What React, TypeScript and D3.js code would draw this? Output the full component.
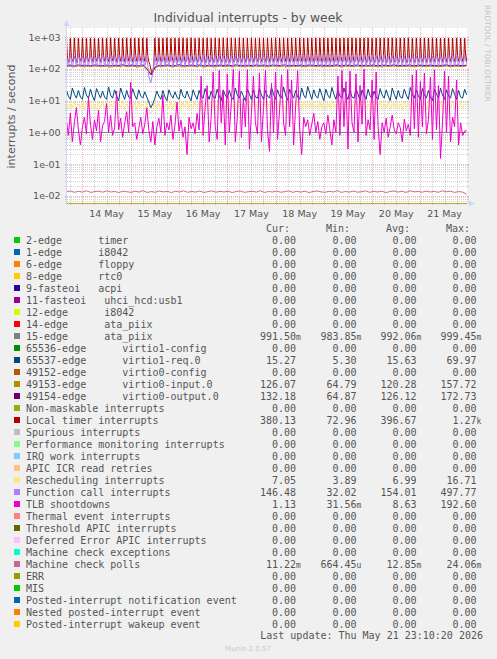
import React from 'react';
import * as d3 from 'd3';

// ---------- layout constants ----------
const W = 497;
const H = 659;
const PLOT = { left: 67, right: 467, top: 28, bottom: 203 };

// time axis in hours relative to 14 May 00:00
const hourStart = -7.667;
const hourEnd = 191.172;
const seriesStartHour = -8;

const yMin = 0.005884;
const yMax = 1966;

// ---------- tick labels ----------
const dayLabels = ['14 May', '15 May', '16 May', '17 May', '18 May', '19 May', '20 May', '21 May'];
const yTickValues = [1e3, 1e2, 1e1, 1, 0.1, 0.01];
const yTickLabels = ['1e+03', '1e+02', '1e+01', '1e+00', '1e-01', '1e-02'];

// ---------- series values (30-minute, 13 May 16:00 .. 21 May 23:30) ----------
const localTimer = [
  950,262,172,165, 938,255,178,168, 962,270,175,160, 945,258,180,170, 955,265,168,163, 940,250,176,167, 960,268,174,161, 948,259,179,169, 935,252,171,164, 957,266,177,166,
  943,261,173,162, 965,272,181,170, 939,254,169,165, 952,263,176,168, 946,257,172,161, 961,269,178,167, 937,251,170,163, 954,264,175,169, 949,260,180,166, 958,267,173,162,
  950,260,170,140, 100,72,90,130, 940,255,175,165, 956,266,171,168, 944,258,177,163, 963,271,174,167, 936,253,179,161, 951,262,172,170, 947,256,176,164, 959,268,170,166,
  941,254,178,162, 964,270,173,169, 938,252,175,165, 953,263,180,167, 948,259,169,161, 960,267,177,168, 935,250,172,164, 955,265,174,170, 942,257,179,163, 962,269,171,166,
  946,256,176,162, 957,266,173,168, 939,253,178,165, 965,272,170,167, 950,261,175,161, 944,258,180,169, 958,267,172,163, 937,251,177,166, 953,264,174,170, 948,260,171,164,
  961,269,179,162, 940,255,173,168, 956,265,176,165, 943,257,170,167, 963,271,178,161, 936,252,174,169, 952,262,172,163, 949,259,177,166, 959,268,175,170, 945,256,171,164,
  954,264,180,162, 938,253,173,168, 962,270,176,165, 947,258,170,167, 957,266,178,161, 941,254,174,169, 964,272,172,163, 950,261,177,166, 935,250,175,170, 955,265,171,164,
  944,257,179,162, 960,268,173,168, 939,252,176,165, 953,263,170,167, 948,259,178,161, 963,271,174,169, 937,251,172,163, 956,266,177,166, 942,256,175,170, 958,267,171,164,
  946,258,180,162, 961,269,173,168, 940,254,176,165, 952,262,170,167, 949,260,178,161, 965,272,174,169, 936,252,172,163, 955,265,177,166, 943,257,175,170, 959,268,171,164,
  947,259,179,162, 962,270,173,168, 938,253,176,165, 954,264,170,167, 945,257,178,161, 960,268,174,169, 941,255,172,163, 957,266,177,166, 950,261,175,170, 944,258,170,380,
];

// ---------- series values (hourly, 13 May 16:00 .. 21 May 23:00) ----------
const functionCall = [
  265, 118, 280, 112, 255, 120, 290, 115,
  270, 110, 260, 122, 285, 116, 250, 119, 275, 113, 295, 121, 262, 108, 278, 117, 268, 124, 288, 111, 258, 119, 272, 114,
  280, 120, 266, 109, 290, 123, 256, 115, 270, 60, 36, 75, 262, 118, 285, 112, 274, 121, 259, 116, 292, 110, 267, 124,
  277, 113, 263, 120, 289, 117, 254, 122, 281, 111, 269, 119, 296, 114, 257, 123, 273, 108, 286, 118, 261, 121, 279, 115,
  268, 119, 292, 112, 255, 124, 283, 117, 270, 110, 264, 122, 288, 116, 259, 113, 276, 120, 297, 111, 262, 118, 280, 123,
  271, 114, 258, 121, 287, 109, 266, 119, 293, 116, 253, 123, 278, 112, 269, 120, 284, 117, 260, 115, 291, 122, 274, 110,
  263, 118, 286, 113, 257, 121, 279, 116, 294, 111, 265, 124, 272, 119, 256, 114, 289, 120, 268, 112, 281, 117, 260, 122,
  284, 115, 270, 120, 262, 110, 291, 118, 255, 123, 277, 114, 266, 121, 287, 116, 258, 119, 282, 112, 273, 124, 261, 117,
  290, 113, 267, 122, 279, 116, 254, 120, 286, 111, 271, 118, 263, 125, 295, 114, 276, 119, 258, 121, 283, 115, 269, 146,
];

const virtio1Req = [
  22, 14, 11, 25, 16, 12, 21, 13,
  11, 26, 15, 12, 23, 14, 10, 24, 17, 12, 20, 13, 11, 27, 15, 12, 22, 14, 10, 25, 16, 11, 21, 13,
  12, 24, 15, 11, 22, 14, 12, 19, 13, 9, 6, 8, 12, 20, 14, 11, 21, 13, 10, 22, 15, 12, 19, 13,
  11, 23, 14, 12, 20, 13, 10, 22, 15, 11, 21, 14, 12, 24, 16, 11, 20, 13, 12, 23, 14, 10, 22, 15,
  12, 21, 13, 11, 25, 15, 12, 20, 14, 10, 23, 16, 11, 22, 13, 12, 24, 15, 11, 21, 14, 12, 26, 16,
  11, 22, 14, 12, 27, 15, 10, 23, 16, 12, 21, 13, 11, 25, 15, 12, 28, 17, 11, 22, 14, 12, 24, 15,
  10, 23, 15, 12, 26, 16, 11, 22, 14, 12, 25, 15, 11, 21, 13, 12, 24, 16, 10, 22, 15, 11, 23, 14,
  12, 20, 13, 11, 24, 15, 12, 22, 14, 10, 25, 16, 11, 21, 13, 12, 23, 15, 11, 26, 16, 12, 22, 14,
  11, 24, 15, 12, 21, 13, 10, 23, 16, 12, 25, 15, 11, 22, 14, 12, 24, 16, 11, 21, 13, 12, 23, 15.27,
];

const rescheduling = [
  9.2, 5.4, 8.1, 6.0, 9.8, 5.1, 7.6, 5.8,
  9.5, 5.2, 8.4, 6.3, 10.2, 5.5, 7.9, 5.0, 9.0, 6.1, 8.7, 5.3, 9.9, 5.7, 7.4, 6.2, 9.3, 5.1, 8.2, 5.9, 10.5, 5.4, 7.8, 6.0,
  9.1, 5.6, 8.6, 5.2, 9.7, 6.0, 7.7, 5.4, 8.9, 4.5, 3.9, 5.0, 9.4, 5.8, 8.0, 5.3, 10.1, 6.1, 7.5, 5.5, 9.6, 5.0, 8.3, 5.9,
  9.0, 5.4, 8.8, 6.2, 10.3, 5.2, 7.6, 5.7, 9.2, 6.0, 8.5, 5.1, 9.8, 5.6, 7.9, 6.3, 9.5, 5.3, 8.1, 5.8, 10.0, 5.5, 7.7, 6.1,
  9.3, 5.2, 8.4, 5.9, 9.9, 6.0, 7.8, 5.4, 8.9, 5.7, 10.4, 5.1, 8.2, 6.2, 9.6, 5.5, 7.5, 5.8, 9.1, 5.3, 8.7, 6.1, 10.2, 5.6,
  8.0, 5.4, 9.4, 6.0, 7.6, 5.2, 10.0, 5.9, 8.6, 5.5, 9.2, 6.3, 7.9, 5.1, 9.7, 5.8, 8.3, 5.4, 10.3, 6.0, 7.7, 5.6, 9.0, 5.2,
  9.5, 5.9, 8.1, 5.3, 10.1, 6.2, 7.8, 5.5, 9.3, 5.0, 8.5, 6.1, 9.8, 5.7, 7.6, 5.4, 9.1, 6.0, 8.4, 5.2, 10.2, 5.8, 7.9, 5.6,
  9.0, 5.3, 8.8, 6.1, 9.6, 5.5, 7.7, 5.9, 10.0, 5.2, 8.2, 6.0, 9.4, 5.6, 7.8, 5.1, 9.9, 6.2, 8.6, 5.4, 9.2, 5.8, 8.0, 5.5,
  9.7, 5.9, 8.3, 5.3, 10.3, 6.1, 7.6, 5.6, 9.1, 5.0, 8.9, 6.2, 9.5, 5.4, 7.9, 5.8, 10.0, 5.2, 8.4, 6.0, 9.3, 5.7, 8.1, 7.05,
];

const tlbShootdowns = [
  2.5, 0.8, 4.0, 0.5, 2.0, 6.0, 1.2, 0.4,
  1.5, 3.0, 0.9, 12, 1.8, 0.6, 2.5, 1.1, 5, 0.5, 1.6, 2.2, 8, 1.0, 3.5, 0.8, 1.4, 20, 1.2, 2.8, 0.7, 1.9, 4.5, 1.0,
  38, 1.5, 2.0, 0.6, 1.3, 3.0, 0.9, 1.8, 6, 1.2, 0.5, 2.2, 0.4, 1.5, 2.8, 1.0, 15, 0.8, 2.0, 1.2, 3.5, 0.6, 1.7, 9,
  1.1, 2.4, 0.7, 1.5, 0.2, 3.0, 1.3, 2.0, 0.9, 4.0, 1.2, 60, 0.8, 6.0, 30, 0.5, 3.0, 80, 1.5, 0.6, 90, 2.0, 20, 0.4,
  70, 1.0, 8, 100, 0.5, 3.0, 85, 0.7, 12, 1.5, 95, 0.3, 4.0, 60, 2.0, 0.9, 75, 0.5, 6.0, 90, 1.2, 0.25, 35, 1.0,
  80, 0.6, 5.0, 65, 2.0, 0.8, 95, 1.5, 45, 0.4, 7.0, 88, 1.2, 0.2, 3.0, 1.5, 2.5, 0.8, 1.8, 4.0, 1.0, 2.2, 0.6, 1.5,
  2.0, 0.9, 3.5, 1.2, 0.4, 2.5, 1.0, 60, 0.8, 90, 1.5, 40, 0.3, 85, 2.0, 1.0, 70, 0.5, 30, 1.8, 100, 0.8, 2.5, 1.2,
  45, 0.6, 80, 1.5, 0.2, 2.0, 1.0, 2.8, 0.7, 1.5, 3.5, 1.2, 0.9, 2.0, 1.4, 0.5, 2.6, 1.1, 1.8, 0.8, 65, 1.3, 90, 0.7,
  40, 1.5, 75, 0.9, 2.5, 55, 0.6, 95, 1.2, 30, 0.15, 2.0, 85, 1.0, 60, 0.5, 3.0, 1.5, 45, 0.4, 2.0, 0.8, 1.1, 1.13,
];

// ---------- series values (2-hourly) ----------
const virtio0Input = [
  118, 122, 116, 125, 119, 121, 117, 124, 120, 118, 123, 115, 121, 119, 126, 117, 122, 120, 116, 124,
  95, 65, 110, 121, 118, 123, 117, 120, 125, 116, 119, 122, 118, 124, 115, 121, 120, 117, 123, 119,
  122, 116, 125, 118, 120, 121, 117, 124, 119, 122, 116, 123, 120, 118, 125, 117, 121, 119, 122, 116,
  124, 120, 118, 123, 117, 121, 119, 125, 116, 122, 120, 118, 124, 117, 121, 119, 123, 116, 122, 120,
  118, 125, 117, 121, 119, 124, 116, 122, 120, 118, 123, 117, 121, 119, 125, 116, 122, 120, 118, 126.07,
];

const virtio0Output = [
  128, 132, 125, 134, 129, 131, 127, 133, 130, 128, 132, 126, 131, 129, 135, 127, 132, 130, 126, 134,
  100, 66, 118, 131, 128, 133, 127, 130, 135, 126, 129, 132, 128, 134, 125, 131, 130, 127, 133, 129,
  132, 126, 135, 128, 130, 131, 127, 134, 129, 132, 126, 133, 130, 128, 135, 127, 131, 129, 132, 126,
  134, 130, 128, 133, 127, 131, 129, 135, 126, 132, 130, 128, 134, 127, 131, 129, 133, 126, 132, 130,
  128, 135, 127, 131, 129, 134, 126, 132, 130, 128, 133, 127, 131, 129, 135, 126, 132, 130, 128, 132.18,
];

const machineCheckPolls = [
  0.0132, 0.0141, 0.0128, 0.0137, 0.0130, 0.0143, 0.0127, 0.0135, 0.0139, 0.0129,
  0.0142, 0.0131, 0.0136, 0.0126, 0.0140, 0.0133, 0.0128, 0.0138, 0.0130, 0.0144,
  0.0127, 0.0135, 0.0129, 0.0141, 0.0132, 0.0137, 0.0126, 0.0139, 0.0131, 0.0143,
  0.0128, 0.0136, 0.0130, 0.0140, 0.0127, 0.0134, 0.0142, 0.0129, 0.0137, 0.0131,
  0.0139, 0.0126, 0.0135, 0.0141, 0.0128, 0.0133, 0.0138, 0.0130, 0.0143, 0.0127,
  0.0136, 0.0131, 0.0140, 0.0129, 0.0134, 0.0142, 0.0128, 0.0137, 0.0130, 0.0139,
  0.0126, 0.0135, 0.0141, 0.0132, 0.0128, 0.0138, 0.0131, 0.0144, 0.0127, 0.0136,
  0.0130, 0.0140, 0.0129, 0.0134, 0.0142, 0.0128, 0.0137, 0.0131, 0.0139, 0.0126,
  0.0135, 0.0141, 0.0130, 0.0138, 0.0127, 0.0143, 0.0132, 0.0136, 0.0129, 0.0140,
  0.0131, 0.0137, 0.0128, 0.0142, 0.0133, 0.0139, 0.0127, 0.0135, 0.0130, 0.01122,
];

// ---------- series values (4-hourly) ----------
const edge15AtaPiix = [
  0.992, 0.990, 0.994, 0.989, 0.993, 0.991, 0.995, 0.988, 0.992, 0.990,
  0.993, 0.991, 0.989, 0.994, 0.992, 0.990, 0.996, 0.991, 0.989, 0.993,
  0.992, 0.990, 0.994, 0.988, 0.993, 0.991, 0.995, 0.990, 0.992, 0.989,
  0.993, 0.991, 0.994, 0.990, 0.992, 0.988, 0.993, 0.991, 0.995, 0.990,
  0.992, 0.989, 0.994, 0.991, 0.993, 0.990, 0.992, 0.988, 0.993, 0.9915,
];

// ---------- legend ----------
const legendNames = [
  '2-edge      timer',
  '1-edge      i8042',
  '6-edge      floppy',
  '8-edge      rtc0',
  '9-fasteoi   acpi',
  '11-fasteoi   uhci_hcd:usb1',
  '12-edge      i8042',
  '14-edge      ata_piix',
  '15-edge      ata_piix',
  '65536-edge      virtio1-config',
  '65537-edge      virtio1-req.0',
  '49152-edge      virtio0-config',
  '49153-edge      virtio0-input.0',
  '49154-edge      virtio0-output.0',
  'Non-maskable interrupts',
  'Local timer interrupts',
  'Spurious interrupts',
  'Performance monitoring interrupts',
  'IRQ work interrupts',
  'APIC ICR read retries',
  'Rescheduling interrupts',
  'Function call interrupts',
  'TLB shootdowns',
  'Thermal event interrupts',
  'Threshold APIC interrupts',
  'Deferred Error APIC interrupts',
  'Machine check exceptions',
  'Machine check polls',
  'ERR',
  'MIS',
  'Posted-interrupt notification event',
  'Nested posted-interrupt event',
  'Posted-interrupt wakeup event',
];

const legendColors = [
  '#00CC00', '#0066B3', '#FF8000', '#FFCC00', '#330099', '#990099', '#CCFF00', '#FF0000',
  '#808080', '#008F00', '#00487D', '#B35A00', '#B38F00', '#6B006B', '#8FB300', '#B30000',
  '#BEBEBE', '#80FF80', '#80C9FF', '#FFC080', '#FFE680', '#AA80FF', '#EE00CC', '#FF8080',
  '#666600', '#FFBFFF', '#00FFCC', '#CC6699', '#999900', '#00CC00', '#0066B3', '#FF8000', '#FFCC00',
];

const curVals = [
  '0.00', '0.00', '0.00', '0.00', '0.00', '0.00', '0.00', '0.00',
  '991.50m', '0.00', '15.27', '0.00', '126.07', '132.18', '0.00', '380.13',
  '0.00', '0.00', '0.00', '0.00', '7.05', '146.48', '1.13', '0.00',
  '0.00', '0.00', '0.00', '11.22m', '0.00', '0.00', '0.00', '0.00', '0.00',
];
const minVals = [
  '0.00', '0.00', '0.00', '0.00', '0.00', '0.00', '0.00', '0.00',
  '983.85m', '0.00', '5.30', '0.00', '64.79', '64.87', '0.00', '72.96',
  '0.00', '0.00', '0.00', '0.00', '3.89', '32.02', '31.56m', '0.00',
  '0.00', '0.00', '0.00', '664.45u', '0.00', '0.00', '0.00', '0.00', '0.00',
];
const avgVals = [
  '0.00', '0.00', '0.00', '0.00', '0.00', '0.00', '0.00', '0.00',
  '992.06m', '0.00', '15.63', '0.00', '120.28', '126.12', '0.00', '396.67',
  '0.00', '0.00', '0.00', '0.00', '6.99', '154.01', '8.63', '0.00',
  '0.00', '0.00', '0.00', '12.85m', '0.00', '0.00', '0.00', '0.00', '0.00',
];
const maxVals = [
  '0.00', '0.00', '0.00', '0.00', '0.00', '0.00', '0.00', '0.00',
  '999.45m', '0.00', '69.97', '0.00', '157.72', '172.73', '0.00', '1.27k',
  '0.00', '0.00', '0.00', '0.00', '16.71', '497.77', '192.60', '0.00',
  '0.00', '0.00', '0.00', '24.06m', '0.00', '0.00', '0.00', '0.00', '0.00',
];

const columnHeaders = ['Cur:', 'Min:', 'Avg:', 'Max:'];

// series to plot, paired with their legend row (drawing order = legend order)
const plotted: { row: number; values: number[]; stepHours: number }[] = [
  { row: 8, values: edge15AtaPiix, stepHours: 4.06 },
  { row: 10, values: virtio1Req, stepHours: 1 },
  { row: 12, values: virtio0Input, stepHours: 2.01 },
  { row: 13, values: virtio0Output, stepHours: 2.01 },
  { row: 15, values: localTimer, stepHours: 0.5 },
  { row: 20, values: rescheduling, stepHours: 1 },
  { row: 21, values: functionCall, stepHours: 1 },
  { row: 22, values: tlbShootdowns, stepHours: 1 },
  { row: 27, values: machineCheckPolls, stepHours: 2.01 },
];

const SANS = "'DejaVu Sans', Verdana, sans-serif";
const MONO = "'DejaVu Sans Mono', monospace";
const TXT = '#555555';

function splitUnit(s: string): [string, string] {
  const last = s[s.length - 1];
  if (/[a-zA-Z]/.test(last)) return [s.slice(0, -1), last];
  return [s, ''];
}

export default function App() {
  const x = d3.scaleLinear().domain([hourStart, hourEnd]).range([PLOT.left, PLOT.right]);
  const y = d3.scaleLog().domain([yMin, yMax]).range([PLOT.bottom, PLOT.top]);

  // grid values
  const minorY: number[] = [];
  const majorY: number[] = [];
  for (let d = -3; d <= 3; d++) {
    const base = Math.pow(10, d);
    if (base >= yMin && base <= yMax) majorY.push(base);
    for (let k = 2; k <= 9; k++) {
      const v = k * base;
      if (v >= yMin && v <= yMax) minorY.push(v);
    }
  }
  const minorX: number[] = [];
  const majorX: number[] = [];
  for (let h = -24; h <= 24 * 9; h += 6) {
    if (h < hourStart || h > hourEnd) continue;
    if (h % 24 === 0) majorX.push(h);
    else minorX.push(h);
  }

  const lineGen = (vals: number[], step: number) =>
    d3
      .line<number>()
      .x((_, i) => x(seriesStartHour + i * step))
      .y((v) => y(v))(vals) as string;

  const gridMinor = 'rgba(150,150,150,0.42)';
  const gridMajor = 'rgba(205,95,95,0.45)';
  const axisColor = '#CFD6F8';

  const zeroRows = maxVals.map((v, i) => (v === '0.00' ? i : -1)).filter((i) => i >= 0);

  const colRight = [296, 356.5, 416.5, 476.5];
  const headerRight = [290, 350, 410, 470];
  const legendTop = 240;
  const rowH = 12;

  const hLine = (v: number, color: string, key: string) => {
    const yy = Math.round(y(v)) + 0.5;
    return (
      <g key={key}>
        <line x1={PLOT.left} x2={PLOT.right} y1={yy} y2={yy} stroke={color} strokeDasharray="1,1" />
        <line x1={PLOT.left - 2} x2={PLOT.left} y1={yy} y2={yy} stroke={color} />
        <line x1={PLOT.right} x2={PLOT.right + 2} y1={yy} y2={yy} stroke={color} />
      </g>
    );
  };
  const vLine = (h: number, color: string, key: string) => {
    const xx = Math.round(x(h)) + 0.5;
    return (
      <g key={key}>
        <line x1={xx} x2={xx} y1={PLOT.top} y2={PLOT.bottom} stroke={color} strokeDasharray="1,1" />
        <line x1={xx} x2={xx} y1={PLOT.bottom} y2={PLOT.bottom + 2} stroke={color} />
      </g>
    );
  };

  return (
    <svg
      width={W}
      height={H}
      style={{ position: 'absolute', left: 0, top: 0, background: '#F0F0F0' }}
      xmlns="http://www.w3.org/2000/svg"
    >
      <defs>
        <clipPath id="plotclip">
          <rect x={PLOT.left} y={PLOT.top} width={PLOT.right - PLOT.left} height={PLOT.bottom - PLOT.top} />
        </clipPath>
      </defs>
      <rect x={0} y={0} width={W} height={H} fill="#F0F0F0" />
      <rect
        x={PLOT.left}
        y={PLOT.top}
        width={PLOT.right - PLOT.left}
        height={PLOT.bottom - PLOT.top}
        fill="#FFFFFF"
      />

      {/* title */}
      <text x={248} y={22.3} textAnchor="middle" fontFamily={SANS} fontSize={12.4} fill={TXT}>
        Individual interrupts - by week
      </text>
      <text transform="translate(485,5) rotate(90)" fontFamily={SANS} fontSize={7.5} fill="#C4C4C4">
        RRDTOOL / TOBI OETIKER
      </text>
      <text
        transform={`translate(14.5,${(PLOT.top + PLOT.bottom) / 2 + 1}) rotate(-90)`}
        textAnchor="middle"
        fontFamily={SANS}
        fontSize={11}
        fill={TXT}
      >
        interrupts / second
      </text>

      {/* grid */}
      <g shapeRendering="crispEdges">
        {minorY.map((v) => hLine(v, gridMinor, 'my' + v))}
        {minorX.map((h) => vLine(h, gridMinor, 'mx' + h))}
        {majorY.map((v) => hLine(v, gridMajor, 'My' + v))}
        {majorX.map((h) => vLine(h, gridMajor, 'Mx' + h))}
      </g>

      {/* axes */}
      <line x1={PLOT.left - 0.5} x2={PLOT.left - 0.5} y1={PLOT.bottom + 2} y2={PLOT.top - 4} stroke={axisColor} />
      <path d={`M${PLOT.left - 3.5},${PLOT.top - 2} L${PLOT.left - 0.5},${PLOT.top - 8} L${PLOT.left + 2.5},${PLOT.top - 2} Z`} fill={axisColor} />
      <line x1={PLOT.left - 2} x2={PLOT.right + 4} y1={PLOT.bottom + 0.5} y2={PLOT.bottom + 0.5} stroke={axisColor} />
      <path d={`M${PLOT.right + 2},${PLOT.bottom - 2.5} L${PLOT.right + 8},${PLOT.bottom + 0.5} L${PLOT.right + 2},${PLOT.bottom + 3.5} Z`} fill={axisColor} />

      {/* series */}
      <g clipPath="url(#plotclip)" fill="none" strokeWidth={1} strokeLinejoin="round">
        {plotted.map((s) => (
          <path key={s.row} d={lineGen(s.values, s.stepHours)} stroke={legendColors[s.row]} />
        ))}
      </g>
      {/* all-zero series sit on the lower edge of the log scale */}
      {zeroRows.map((r) => (
        <line
          key={'z' + r}
          x1={PLOT.left}
          x2={PLOT.right}
          y1={y(yMin) + 0.5}
          y2={y(yMin) + 0.5}
          stroke={legendColors[r]}
          strokeOpacity={0.45}
        />
      ))}

      {/* y tick labels */}
      {yTickValues.map((v, i) => (
        <text key={'yt' + i} x={60.5} y={y(v) + 3.5} textAnchor="end" fontFamily={SANS} fontSize={9.5} fill={TXT}>
          {yTickLabels[i]}
        </text>
      ))}
      {/* x tick labels at noon */}
      {dayLabels.map((lab, i) => (
        <text key={'xt' + i} x={x(i * 24 + 12)} y={216.8} textAnchor="middle" fontFamily={SANS} fontSize={9.5} fill={TXT}>
          {lab}
        </text>
      ))}

      {/* legend */}
      <g fontFamily={MONO} fontSize={10} fill={TXT}>
        {columnHeaders.map((h, i) => (
          <text key={'h' + i} x={headerRight[i]} y={231.5} textAnchor="end">
            {h}
          </text>
        ))}
        {legendNames.map((name, i) => {
          const cy = legendTop + i * rowH;
          const cols = [curVals[i], minVals[i], avgVals[i], maxVals[i]];
          return (
            <g key={'l' + i}>
              <rect x={14} y={cy - 3} width={6} height={6} fill={legendColors[i]} />
              <text x={26} y={cy + 3.5} style={{ whiteSpace: 'pre' }}>
                {name}
              </text>
              {cols.map((c, j) => {
                const [num, unit] = splitUnit(c);
                return (
                  <g key={j}>
                    <text x={colRight[j]} y={cy + 3.5} textAnchor="end">
                      {num}
                    </text>
                    {unit && (
                      <text x={colRight[j]} y={cy + 3.5} fontSize={8}>
                        {unit}
                      </text>
                    )}
                  </g>
                );
              })}
            </g>
          );
        })}
        <text x={483} y={638.5} textAnchor="end">
          Last update: Thu May 21 23:10:20 2026
        </text>
      </g>
      <text x={248} y={650.5} textAnchor="middle" fontFamily={SANS} fontSize={7} fill="#C8C8C8">
        Munin 2.0.57
      </text>
    </svg>
  );
}
